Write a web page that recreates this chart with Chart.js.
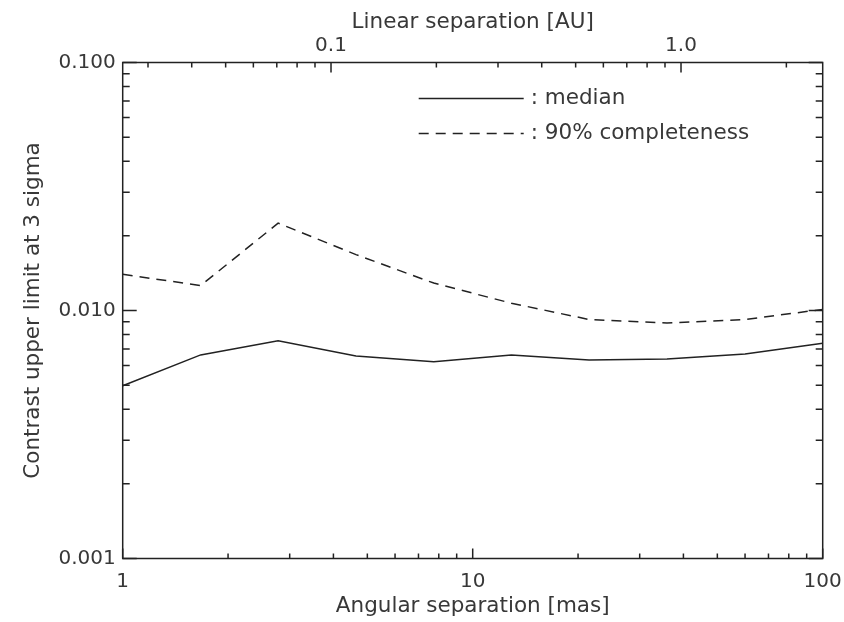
<!DOCTYPE html>
<html>
<head>
<meta charset="utf-8">
<script src="https://cdn.jsdelivr.net/npm/chart.js@4.4.1/dist/chart.umd.min.js"></script>
<style>
  html, body { margin: 0; padding: 0; background: #fff; }
  #wrap { width: 844px; height: 622px; }
</style>
</head>
<body>
<div id="wrap"><canvas id="limitChart" width="844" height="622"></canvas></div>
<script>
// angular separation of each sample [mas]
const separations = [1, 1.67, 2.78, 4.64, 7.74, 12.9, 21.5, 35.9, 60.0, 100];
// contrast limits at 3 sigma
const medianLimit = [0.00497, 0.00662, 0.00755, 0.00655, 0.00622, 0.00662, 0.00632, 0.00638, 0.00668, 0.00737];
const completeLimit = [0.0140, 0.0126, 0.0225, 0.0168, 0.0129, 0.0107, 0.0092, 0.0089, 0.0092, 0.0101];

// tick positions for the axes
const masTicks = [1, 2, 3, 4, 5, 6, 7, 8, 9, 10, 20, 30, 40, 50, 60, 70, 80, 90, 100];
const auTicks = [0.03, 0.04, 0.05, 0.06, 0.07, 0.08, 0.09, 0.1, 0.2, 0.3, 0.4, 0.5, 0.6, 0.7, 0.8, 0.9, 1, 2];
const contrastTicks = [0.001, 0.002, 0.003, 0.004, 0.005, 0.006, 0.007, 0.008, 0.009,
                       0.01, 0.02, 0.03, 0.04, 0.05, 0.06, 0.07, 0.08, 0.09, 0.1];
// 1 mas at the target distance, in AU
const auPerMas = 0.0254;

const ink = '#222';
const textInk = '#383838';
const labelFont = { size: 21.5 };
const tickFont = { size: 20 };

function isDecade(v) {
    const l = Math.log10(v);
    return Math.abs(l - Math.round(l)) < 1e-6;
}

function setTicks(list) {
    return scale => {
        scale.ticks = list.map(v => ({ value: v, major: isDecade(v) }));
    };
}

// keep the plot box fixed, ignore label overhang at the ends
function fixHeight(h) {
    return s => {
        s.height = h;
        s.paddingLeft = 0;
        s.paddingRight = 0;
    };
}

Chart.defaults.font.family = "'DejaVu Sans', sans-serif";
Chart.defaults.font.size = 20;
Chart.defaults.color = textInk;

// box around the plot with inward ticks on all four sides
const frameTicks = {
    id: 'frameTicks',
    afterDatasetsDraw(chart) {
        const { ctx, chartArea: a, scales } = chart;
        ctx.save();
        ctx.strokeStyle = ink;
        ctx.lineWidth = 1.5;
        ctx.strokeRect(a.left, a.top, a.right - a.left, a.bottom - a.top);
        ctx.beginPath();
        scales.x.ticks.forEach(t => {
            const px = scales.x.getPixelForValue(t.value);
            const len = t.major ? 10 : 5;
            ctx.moveTo(px, a.bottom);
            ctx.lineTo(px, a.bottom - len);
        });
        scales.x2.ticks.forEach(t => {
            const px = scales.x2.getPixelForValue(t.value);
            const len = t.major ? 10 : 5;
            ctx.moveTo(px, a.top);
            ctx.lineTo(px, a.top + len);
        });
        scales.y.ticks.forEach(t => {
            const py = scales.y.getPixelForValue(t.value);
            const len = t.major ? 14 : 7;
            ctx.moveTo(a.left, py);
            ctx.lineTo(a.left + len, py);
            ctx.moveTo(a.right, py);
            ctx.lineTo(a.right - len, py);
        });
        ctx.stroke();
        ctx.restore();
    }
};

// line-sample legend in the upper part of the plot
const insideLegend = {
    id: 'insideLegend',
    afterDatasetsDraw(chart) {
        const { ctx, chartArea: a } = chart;
        ctx.save();
        ctx.font = "21.5px 'DejaVu Sans', sans-serif";
        ctx.textBaseline = 'middle';
        ctx.fillStyle = textInk;
        chart.data.datasets.forEach((ds, i) => {
            const y = a.top + 36 + i * 35;
            const x0 = a.left + 296;
            ctx.strokeStyle = ds.borderColor;
            ctx.lineWidth = ds.borderWidth;
            ctx.setLineDash(ds.borderDash || []);
            ctx.beginPath();
            ctx.moveTo(x0, y);
            ctx.lineTo(x0 + 105, y);
            ctx.stroke();
            ctx.fillText(ds.label, x0 + 112, y);
        });
        ctx.restore();
    }
};

new Chart(document.getElementById('limitChart'), {
    type: 'line',
    data: {
        datasets: [{
            label: ': median',
            data: separations.map((x, i) => ({ x: x, y: medianLimit[i] })),
            borderColor: ink,
            borderWidth: 1.5,
            borderDash: [],
            pointRadius: 0,
            tension: 0
        }, {
            label: ': 90% completeness',
            data: separations.map((x, i) => ({ x: x, y: completeLimit[i] })),
            borderColor: ink,
            borderWidth: 1.5,
            borderDash: [10, 7],
            pointRadius: 0,
            tension: 0
        }]
    },
    options: {
        responsive: false,
        animation: false,
        devicePixelRatio: 1,
        layout: { padding: { left: 0, right: 21.3, top: 0, bottom: 0 } },
        plugins: {
            legend: { display: false },
            tooltip: { enabled: false }
        },
        scales: {
            x: {
                type: 'logarithmic',
                position: 'bottom',
                min: 1,
                max: 100,
                afterBuildTicks: setTicks(masTicks),
                afterFit: fixHeight(63.5),
                grid: { display: false, drawTicks: false },
                border: { display: false },
                ticks: {
                    autoSkip: false,
                    maxRotation: 0,
                    padding: 11,
                    font: tickFont,
                    callback: v => isDecade(v) ? String(Math.round(v)) : ''
                },
                title: {
                    display: true,
                    text: 'Angular separation [mas]',
                    font: labelFont,
                    padding: { top: 0, bottom: 3 }
                }
            },
            x2: {
                type: 'logarithmic',
                position: 'top',
                min: 1 * auPerMas,
                max: 100 * auPerMas,
                afterBuildTicks: setTicks(auTicks),
                afterFit: fixHeight(62.5),
                grid: { display: false, drawTicks: false },
                border: { display: false },
                ticks: {
                    autoSkip: false,
                    maxRotation: 0,
                    padding: 5,
                    font: tickFont,
                    callback: v => isDecade(v) ? v.toFixed(1) : ''
                },
                title: {
                    display: true,
                    text: 'Linear separation [AU]',
                    font: labelFont,
                    padding: { top: 10, bottom: 0 }
                }
            },
            y: {
                type: 'logarithmic',
                position: 'left',
                min: 0.001,
                max: 0.1,
                afterBuildTicks: setTicks(contrastTicks),
                afterFit: s => { s.width = 122.7; },
                grid: { display: false, drawTicks: false },
                border: { display: false },
                ticks: {
                    autoSkip: false,
                    padding: 7,
                    font: tickFont,
                    callback: v => isDecade(v) ? v.toFixed(3) : ''
                },
                title: {
                    display: true,
                    text: 'Contrast upper limit at 3 sigma',
                    font: labelFont,
                    padding: { top: 21, bottom: 0 }
                }
            }
        }
    },
    plugins: [frameTicks, insideLegend]
});
</script>
</body>
</html>
